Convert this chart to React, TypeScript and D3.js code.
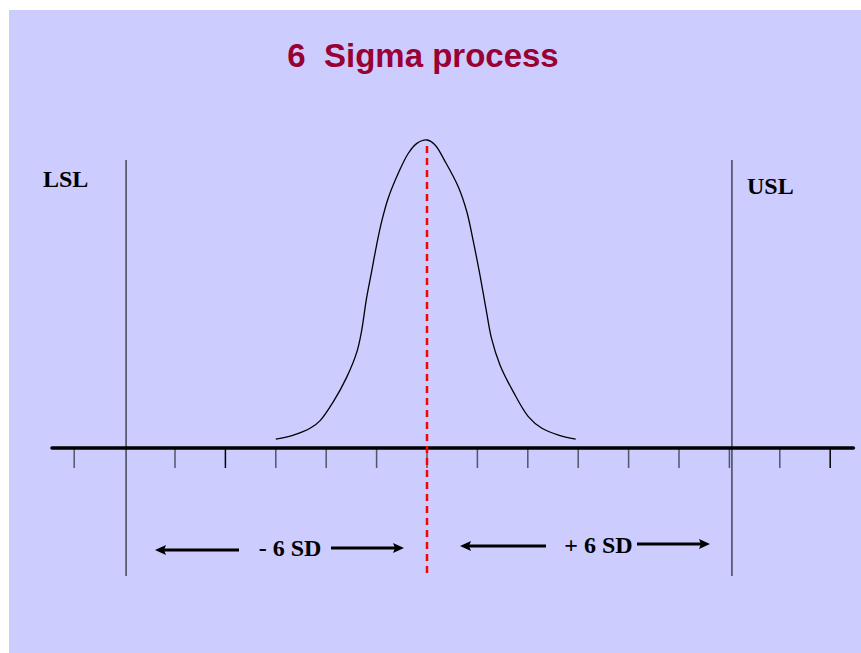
import React from "react";
import * as d3 from "d3";

// Data (x in SD units from the process mean, y as relative density)
const curveX = [-3.0, -2.65, -2.32, -2.12, -1.86, -1.59, -1.39, -1.3, -1.2, -1.1, -1.0, -0.9, -0.77, -0.57, -0.37, -0.2, 0, 0.16, 0.36, 0.62, 0.79, 0.92, 1.05, 1.18, 1.28, 1.45, 1.71, 2.01, 2.28, 2.61, 2.95];
const curveY = [0.029, 0.042, 0.064, 0.089, 0.15, 0.231, 0.313, 0.378, 0.486, 0.572, 0.659, 0.735, 0.811, 0.892, 0.957, 0.989, 1.0, 0.984, 0.93, 0.848, 0.767, 0.67, 0.562, 0.443, 0.356, 0.269, 0.183, 0.102, 0.064, 0.042, 0.029];
const tickValues = [-7, -5, -4, -3, -2, -1, 0, 1, 2, 3, 4, 5, 6, 7, 8];
const axisExtent = [-7.44, 8.46];
const limitValues = [-5.97, 6.05];
const limitLabels = ["LSL", "USL"];
const meanValue = 0;
const title = "6  Sigma process";
const sdLabels = ["- 6 SD", "+ 6 SD"];

const W = 861;
const H = 653;

export default function App() {
  const x = d3.scaleLinear().domain([0, 1]).range([427, 477.4]);
  const y = d3.scaleLinear().domain([0, 1]).range([448, 140]);
  const pts: [number, number][] = curveX.map((v, i) => [v, curveY[i]]);
  const line = d3
    .line<[number, number]>()
    .x((d) => x(d[0]))
    .y((d) => y(d[1]))
    .curve(d3.curveCatmullRom.alpha(0.5));

  const lineColor = "#4d4d60";
  const serif = "Liberation Serif, Times New Roman, serif";
  const arrow = (x1: number, x2: number, yy: number, key: string) => {
    const dir = Math.sign(x2 - x1);
    const head = 11;
    return (
      <g key={key}>
        <line x1={x1} x2={x2 - dir * head * 0.8} y1={yy} y2={yy} stroke="#000" strokeWidth={3} />
        <path d={`M${x2},${yy} L${x2 - dir * head},${yy - 5} L${x2 - dir * (head - 2)},${yy} L${x2 - dir * head},${yy + 5} Z`} fill="#000" />
      </g>
    );
  };

  return (
    <svg width={W} height={H} style={{ position: "absolute", left: 0, top: 0 }}>
      <rect x={0} y={0} width={W} height={H} fill="#fff" />
      <rect x={9} y={10} width={W - 9} height={H - 10} fill="#ccccff" />
      <text
        x={423}
        y={67}
        textAnchor="middle"
        fontFamily="Liberation Sans, Arial, sans-serif"
        fontWeight="bold"
        fontSize={33}
        fill="#990033"
        style={{ whiteSpace: "pre" }}
      >
        {title}
      </text>

      {/* limit lines */}
      {limitValues.map((v, i) => (
        <line key={"lim" + i} x1={x(v)} x2={x(v)} y1={160} y2={576} stroke={lineColor} strokeWidth={1.6} />
      ))}
      <text x={43} y={187} fontFamily={serif} fontWeight="bold" fontSize={24} fill="#000">
        {limitLabels[0]}
      </text>
      <text x={747} y={194} fontFamily={serif} fontWeight="bold" fontSize={24} fill="#000">
        {limitLabels[1]}
      </text>

      {/* ticks */}
      {tickValues.map((t) => (
        <line key={"t" + t} x1={x(t)} x2={x(t)} y1={449} y2={468} stroke={t === -4 || t === 8 ? "#000" : "#555566"} strokeWidth={1.5} />
      ))}

      {/* axis */}
      <line x1={x(axisExtent[0])} x2={x(axisExtent[1])} y1={448} y2={448} stroke="#000" strokeWidth={3.5} strokeLinecap="round" />

      {/* curve */}
      <path d={line(pts) || ""} fill="none" stroke="#000" strokeWidth={1.3} />

      {/* mean line */}
      <line x1={x(meanValue)} x2={x(meanValue)} y1={146} y2={576} stroke="#ff0000" strokeWidth={2.5} strokeDasharray="7 5" />

      {/* SD arrows */}
      {arrow(239, 155, 550, "a1")}
      {arrow(331, 404, 548, "a2")}
      {arrow(546, 460, 546, "a3")}
      {arrow(637, 710, 544, "a4")}
      <text x={290} y={556} textAnchor="middle" fontFamily={serif} fontWeight="bold" fontSize={24} fill="#000" style={{ whiteSpace: "pre" }}>
        {sdLabels[0]}
      </text>
      <text x={598.5} y={553} textAnchor="middle" fontFamily={serif} fontWeight="bold" fontSize={24} fill="#000" style={{ whiteSpace: "pre" }}>
        {sdLabels[1]}
      </text>
    </svg>
  );
}
